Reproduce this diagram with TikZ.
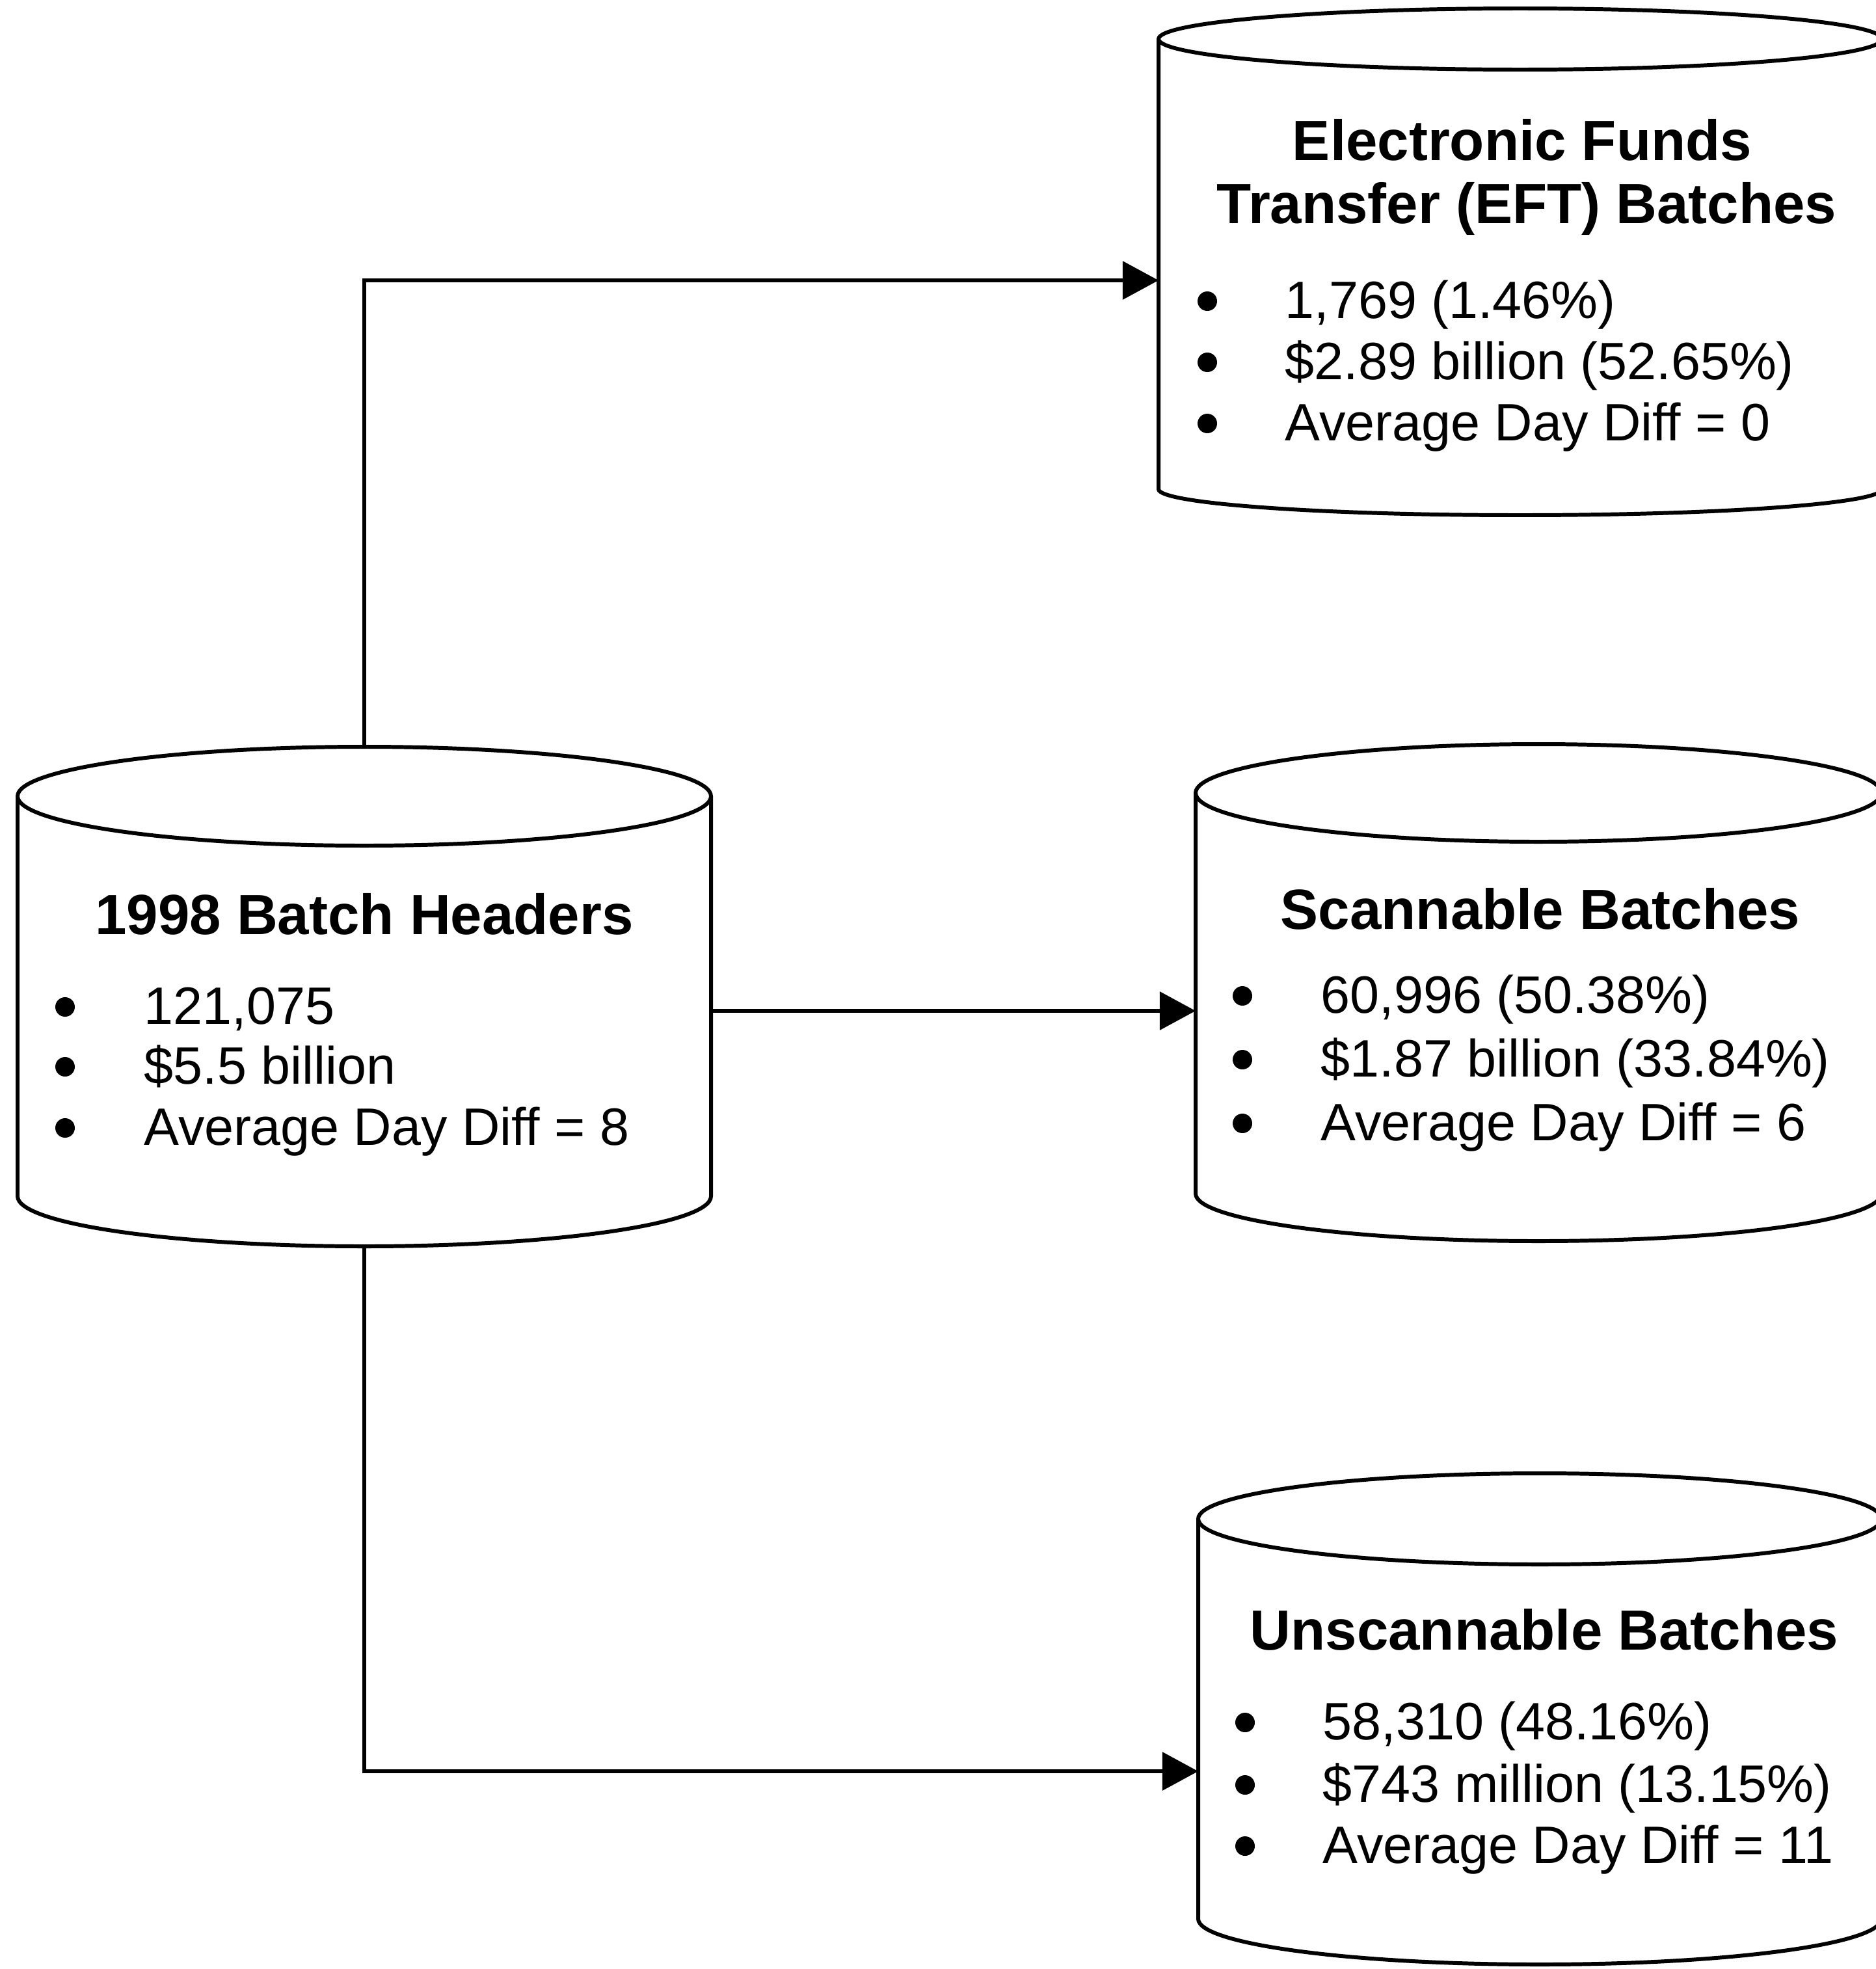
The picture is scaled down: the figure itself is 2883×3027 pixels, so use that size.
\documentclass[tikz,border=0pt]{standalone}
\usepackage{fontspec}
\setmainfont{Liberation Sans}
\usetikzlibrary{arrows.meta}

\begin{document}
\begin{tikzpicture}[x=0.01cm,y=0.01cm,
  outline/.style={line width=1.7pt,line join=round},
  flow/.style={line width=1.7pt,-{Triangle[length=0.55cm,width=0.58cm]}},
  title/.style={inner sep=0pt,anchor=base,font=\fontsize{24.75}{29}\selectfont\bfseries},
  item/.style={inner sep=0pt,anchor=base west,font=\fontsize{23}{27}\selectfont},
  dot/.style={fill=black,draw=none}]

\useasboundingbox (0,0) rectangle (2883,-3027);

% cylinder: centre x, top-ellipse centre y, bottom y, half width, top ry, bottom ry
\newcommand{\drumshape}[6]{%
  \draw[outline] (#1,#2) ellipse [x radius=#4, y radius=#5];
  \draw[outline] ({#1-#4},#2) -- ({#1-#4},#3)
     arc[start angle=180,end angle=360,x radius=#4,y radius=#6]
     -- ({#1+#4},#2);
}
% bullet dot sitting on a text baseline
\newcommand{\bulletdot}[2]{\fill[dot] (#1,{#2+26}) circle[radius=15];}

% ---- 1998 Batch Headers ----
\drumshape{560}{-1224}{-1839}{533}{76}{77}
\node[title] (hdr-title) at (560,-1436) {1998 Batch Headers};
\bulletdot{100}{-1574}\bulletdot{100}{-1666}\bulletdot{100}{-1760}
\node[item] (hdr-a) at (221,-1574) {121,075};
\node[item] (hdr-b) at (221,-1666) {\$5.5 billion};
\node[item] (hdr-c) at (221,-1760) {Average Day Diff = 8};

% ---- EFT batches (right side runs off the page edge) ----
\drumshape{2337}{-60}{-752}{556}{47}{40}
\node[title] (eft-title1) at (2340,-246) {Electronic Funds};
\node[title] (eft-title2) at (2347,-343) {Transfer (EFT) Batches};
\bulletdot{1856}{-489}\bulletdot{1856}{-583}\bulletdot{1856}{-677}
\node[item] (eft-a) at (1975,-489) {1,769 (1.46\%)};
\node[item] (eft-b) at (1975,-583) {\$2.89 billion (52.65\%)};
\node[item] (eft-c) at (1975,-677) {Average Day Diff = 0};

% ---- Scannable batches ----
\drumshape{2365}{-1219}{-1835}{527}{75}{73}
\node[title] (scan-title) at (2368,-1428) {Scannable Batches};
\bulletdot{1910}{-1557}\bulletdot{1910}{-1655}\bulletdot{1910}{-1753}
\node[item] (scan-a) at (2030,-1557) {60,996 (50.38\%)};
\node[item] (scan-b) at (2030,-1655) {\$1.87 billion (33.84\%)};
\node[item] (scan-c) at (2030,-1753) {Average Day Diff = 6};

% ---- Unscannable batches ----
\drumshape{2367}{-2335}{-2950}{525}{70}{70}
\node[title] (unsc-title) at (2374,-2536) {Unscannable Batches};
\bulletdot{1914}{-2674}\bulletdot{1914}{-2770}\bulletdot{1914}{-2864}
\node[item] (unsc-a) at (2033,-2674) {58,310 (48.16\%)};
\node[item] (unsc-b) at (2033,-2770) {\$743 million (13.15\%)};
\node[item] (unsc-c) at (2033,-2864) {Average Day Diff = 11};

% ---- ports on the cylinder outlines ----
\coordinate (hdr-top) at (560,-1148);
\coordinate (hdr-right) at (1093,-1554);
\coordinate (hdr-bottom) at (560,-1916);
\coordinate (eft-in) at (1781,-431);
\coordinate (scan-in) at (1838,-1554);
\coordinate (unsc-in) at (1842,-2723);

% ---- connectors ----
\draw[flow] (hdr-top) |- (eft-in);
\draw[flow] (hdr-right) -- (scan-in);
\draw[flow] (hdr-bottom) |- (unsc-in);

\end{tikzpicture}
\end{document}
